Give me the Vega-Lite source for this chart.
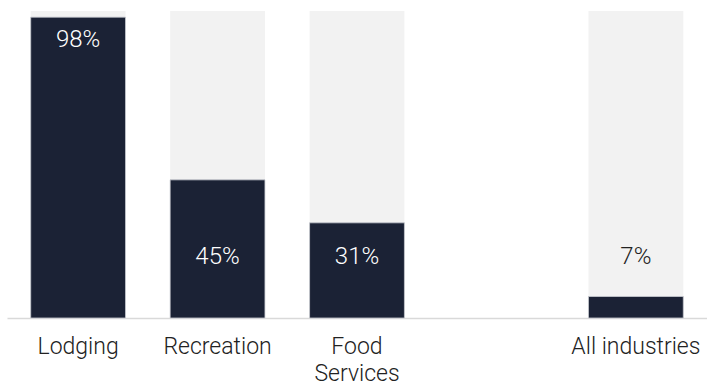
{
  "$schema": "https://vega.github.io/schema/vega-lite/v6.json",
  "width": 700,
  "height": 307,
  "padding": {"left": 7, "top": 11, "right": 0, "bottom": 0},
  "autosize": {"type": "pad"},
  "background": "white",
  "config": {"view": {"stroke": null}, "font": "Roboto"},
  "data": {
    "values": [
      {"category": "Lodging", "value": 0.98},
      {"category": "Recreation", "value": 0.45},
      {"category": "Food Services", "value": 0.31},
      {"category": "All industries", "value": 0.07}
    ]
  },
  "encoding": {
    "x": {
      "field": "category",
      "type": "nominal",
      "sort": null,
      "scale": {
        "domain": ["Lodging", "Recreation", "Food Services", "gap", "All industries"],
        "paddingInner": 0.32,
        "paddingOuter": 0.17
      },
      "axis": {
        "title": null,
        "labelAngle": 0,
        "ticks": false,
        "domainColor": "#d9d9d9",
        "domainWidth": 1.5,
        "labelFont": "Roboto",
        "labelFontWeight": 300,
        "labelFontSize": 23,
        "labelColor": "#222222",
        "labelPadding": 17,
        "labelLineHeight": 27,
        "labelExpr": "datum.value == 'Food Services' ? ['Food', 'Services'] : (datum.value == 'gap' ? '' : datum.value)"
      }
    }
  },
  "layer": [
    {
      "mark": {"type": "bar", "color": "#f2f2f2"},
      "encoding": {
        "y": {"datum": 1, "type": "quantitative", "scale": {"domain": [0, 1], "nice": false}, "axis": null}
      }
    },
    {
      "mark": {"type": "bar", "color": "#1b2235", "stroke": "#c9ccd2", "strokeWidth": 0.8},
      "encoding": {
        "y": {"field": "value", "type": "quantitative", "scale": {"domain": [0, 1], "nice": false}, "axis": null}
      }
    },
    {
      "transform": [{"filter": "datum.value >= 0.9"}],
      "mark": {"type": "text", "baseline": "top", "dy": 11, "fontSize": 24, "fontWeight": 300, "font": "Roboto", "color": "#ffffff"},
      "encoding": {
        "y": {"field": "value", "type": "quantitative", "scale": {"domain": [0, 1], "nice": false}, "axis": null},
        "text": {"field": "value", "type": "quantitative", "format": ".0%"}
      }
    },
    {
      "transform": [{"filter": "datum.value < 0.9"}],
      "mark": {"type": "text", "baseline": "middle", "fontSize": 24, "fontWeight": 300, "font": "Roboto"},
      "encoding": {
        "y": {"datum": 0.2, "type": "quantitative", "scale": {"domain": [0, 1], "nice": false}, "axis": null},
        "text": {"field": "value", "type": "quantitative", "format": ".0%"},
        "color": {
          "condition": {"test": "datum.value > 0.2", "value": "#ffffff"},
          "value": "#222222"
        }
      }
    }
  ]
}
